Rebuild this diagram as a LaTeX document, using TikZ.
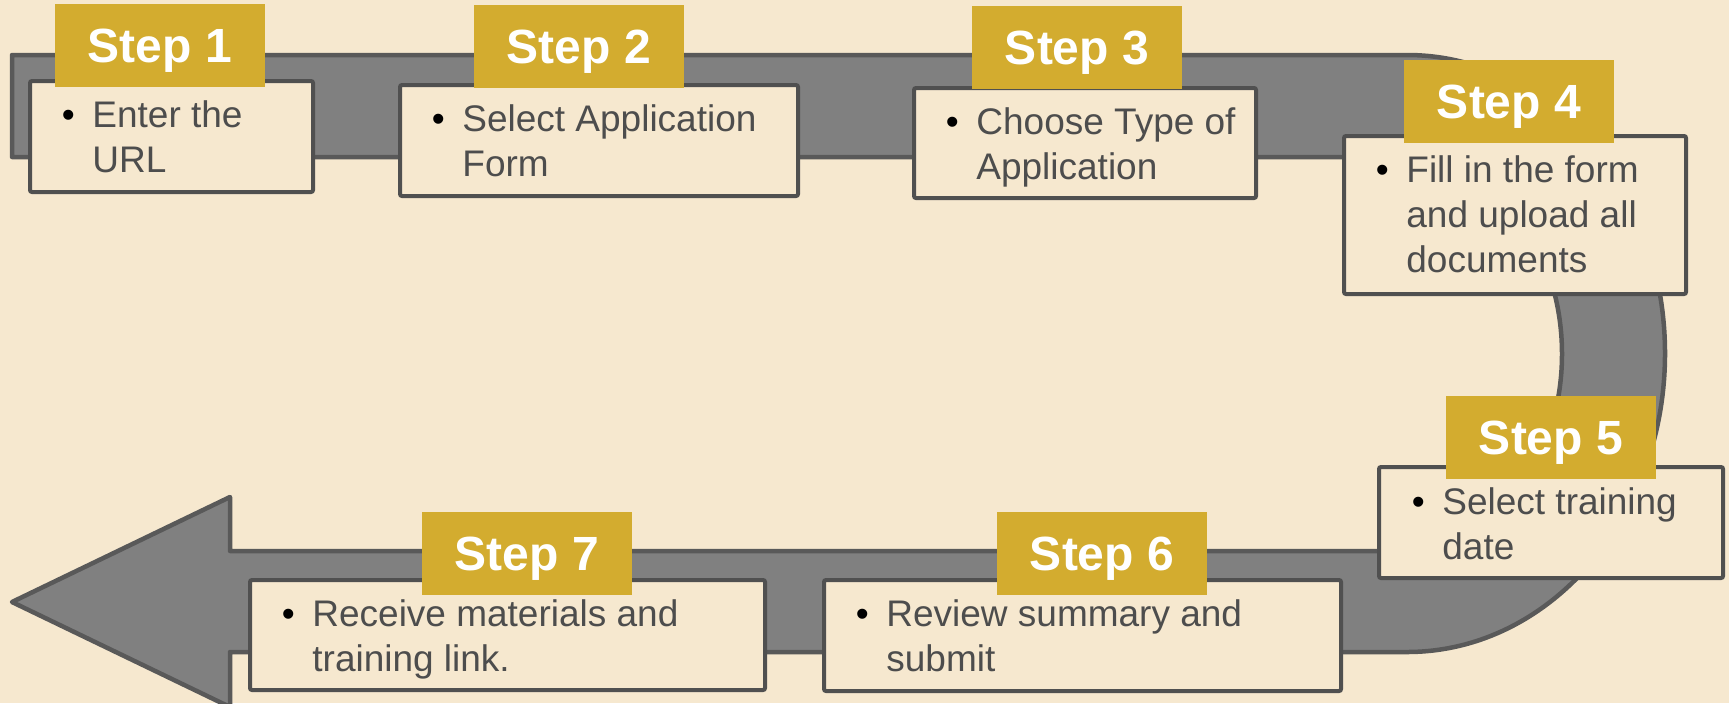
\documentclass[tikz,border=0pt]{standalone}
\usepackage{fontspec}
\setmainfont{Liberation Sans}
\usetikzlibrary{calc,fit}

\definecolor{paper}{HTML}{F6E8CF}
\definecolor{bandfill}{HTML}{808080}
\definecolor{bandline}{HTML}{595959}
\definecolor{boxline}{HTML}{505050}
\definecolor{gold}{HTML}{D3AC2F}
\definecolor{ink}{HTML}{4D4D4D}

\newcommand{\bul}{\llap{\textcolor{black}{\textbullet}\hspace{8.75pt}}}

\begin{document}
\begin{tikzpicture}[x=0.5pt,y=-0.5pt,
    stepbox/.style={draw=boxline,fill=paper,line width=2pt,rounded corners=1pt,inner sep=0pt},
    steplabel/.style={fill=gold,text=white,inner sep=0pt,minimum width=105pt,minimum height=41.5pt,
      font=\fontsize{24}{28}\selectfont\bfseries,text height=17pt,text depth=0pt},
    steptext/.style={text=ink,inner sep=0pt,align=left,anchor=base west,
      font=\fontsize{18.5}{22.5}\selectfont}]
  \fill[paper] (0,0) rectangle (1729,703);
  \useasboundingbox (0,0) rectangle (1729,703);

  % the u-turn arrow behind the steps
  \draw[bandline,fill=bandfill,line width=2.25pt,line join=round]
    (12,55) -- (1407,55)
    arc[start angle=-90,end angle=90,x radius=258,y radius=298.5]
    -- (230,652) -- (230,707) -- (12,602) -- (230,497) -- (230,551) -- (1407,551)
    arc[start angle=90,end angle=-90,x radius=155,y radius=197]
    -- (12,157) -- cycle;

  % boxes
  \node[stepbox,fit={(30,81) (313,192)}] (b1) {};
  \node[stepbox,fit={(400,85) (798,196)}] (b2) {};
  \node[stepbox,fit={(914,88) (1256,198)}] (b3) {};
  \node[stepbox,fit={(1344,136) (1686,294)}] (b4) {};
  \node[stepbox,fit={(1379,467) (1723,578)}] (b5) {};
  \node[stepbox,fit={(824,580) (1341,691)}] (b6) {};
  \node[stepbox,fit={(250,580) (765,690)}] (b7) {};

  % step labels
  \node[steplabel] (s1) at (160,45.5) {Step 1};
  \node[steplabel] (s2) at (579,46) {Step 2};
  \node[steplabel] (s3) at (1077,47.5) {Step 3};
  \node[steplabel] (s4) at (1509,101.5) {Step 4};
  \node[steplabel] (s5) at (1551,437.5) {Step 5};
  \node[steplabel] (s6) at (1102,553) {Step 6};
  \node[steplabel] (s7) at (527,553) {Step 7};

  % texts (base = last line)
  \node[steptext] (t1) at ($(b1.north west)+(64,93)$) {\bul Enter the\\URL};
  \node[steptext] (t2) at ($(b2.north west)+(64,93)$) {\bul Select Application\\Form};
  \node[steptext] (t3) at ($(b3.north west)+(64,93)$) {\bul Choose Type of\\Application};
  \node[steptext] (t4) at ($(b4.north west)+(64,138)$) {\bul Fill in the form\\and upload all\\documents};
  \node[steptext] (t5) at ($(b5.north west)+(65,94)$) {\bul Select training\\date};
  \node[steptext] (t6) at ($(b6.north west)+(64,93)$) {\bul Review summary and\\submit};
  \node[steptext] (t7) at ($(b7.north west)+(64,93)$) {\bul Receive materials and\\training link.};
\end{tikzpicture}
\end{document}
